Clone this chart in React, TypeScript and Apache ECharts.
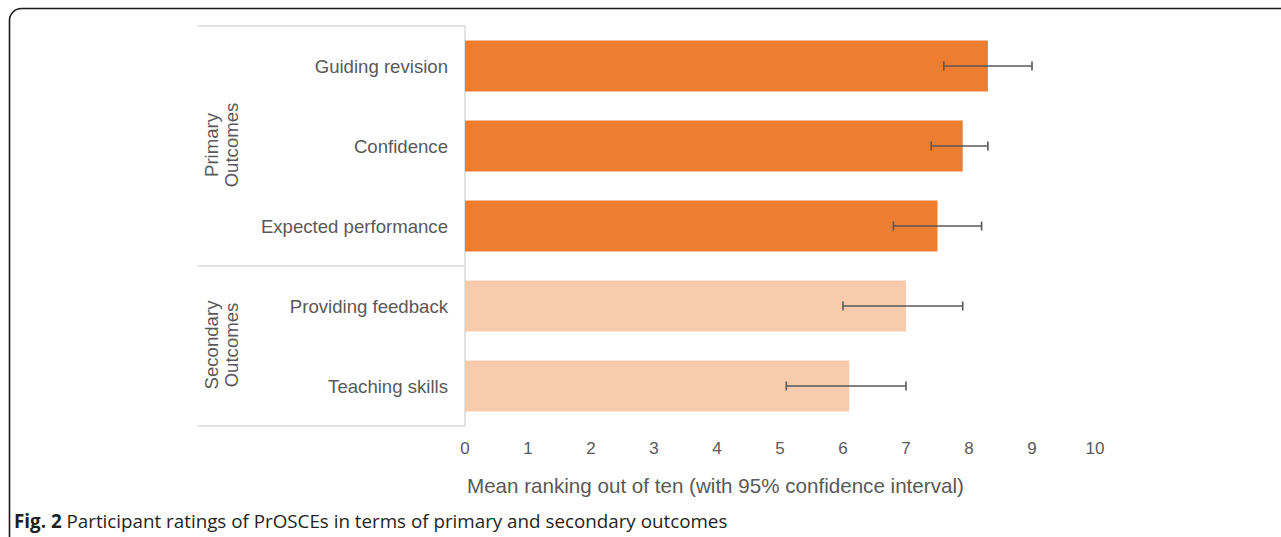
import React, { useEffect, useRef } from "react";
import * as echarts from "echarts";

const categories = [
  "Guiding revision",
  "Confidence",
  "Expected performance",
  "Providing feedback",
  "Teaching skills",
];
const means = [8.3, 7.9, 7.5, 7.0, 6.1];
const lowerCI = [7.6, 7.4, 6.8, 6.0, 5.1];
const upperCI = [9.0, 8.3, 8.2, 7.9, 7.0];
const groupOf = ["primary", "primary", "primary", "secondary", "secondary"];
const xTicks = [0, 10, 1];
const axisTitle = "Mean ranking out of ten (with 95% confidence interval)";
const caption = "Participant ratings of PrOSCEs in terms of primary and secondary outcomes";

const COLORS: Record<string, string> = { primary: "#ED7D31", secondary: "#F8CBAD" };
const TEXT = "#595959";
const LINE = "#D9D9D9";
const SANS = "'Liberation Sans', Arial, Helvetica, sans-serif";
const CAP = "'Open Sans', 'Noto Sans', sans-serif";

export default function App() {
  const ref = useRef<HTMLDivElement>(null);
  useEffect(() => {
    if (!ref.current) return;
    const chart = echarts.init(ref.current, undefined, { renderer: "svg" });
    const option: any = {
      animation: false,
      backgroundColor: "#fff",
      grid: { left: 465, top: 26, width: 630, height: 400, containLabel: false },
      xAxis: {
        type: "value",
        min: xTicks[0],
        max: xTicks[1],
        interval: xTicks[2],
        axisLine: { show: false },
        axisTick: { show: false },
        splitLine: { show: false },
        axisLabel: { color: TEXT, fontSize: 17, fontFamily: SANS, margin: 14 },
      },
      yAxis: {
        type: "category",
        data: categories,
        inverse: true,
        axisLine: { show: true, lineStyle: { color: LINE, width: 1.5 } },
        axisTick: { show: false },
        axisLabel: { color: TEXT, fontSize: 18.6, fontFamily: SANS, margin: 17 },
      },
      series: [
        {
          type: "bar",
          barWidth: "64%",
          data: means.map((v, i) => ({ value: v, itemStyle: { color: COLORS[groupOf[i]] } })),
        },
        {
          type: "custom",
          encode: { x: [0, 1], y: 2 },
          data: categories.map((_, i) => [lowerCI[i], upperCI[i], i]),
          z: 5,
          renderItem: (params: any, api: any) => {
            const yi = api.value(2);
            const p1 = api.coord([api.value(0), yi]);
            const p2 = api.coord([api.value(1), yi]);
            const h = 4.5;
            const style = { stroke: TEXT, lineWidth: 1.6 };
            return {
              type: "group",
              children: [
                { type: "line", shape: { x1: p1[0], y1: p1[1], x2: p2[0], y2: p2[1] }, style },
                { type: "line", shape: { x1: p1[0], y1: p1[1] - h, x2: p1[0], y2: p1[1] + h }, style },
                { type: "line", shape: { x1: p2[0], y1: p2[1] - h, x2: p2[0], y2: p2[1] + h }, style },
              ],
            };
          },
        },
      ],
      graphic: [
        {
          type: "rect",
          shape: { x: 9.5, y: 8.5, width: 1400, height: 700, r: 12 },
          style: { fill: "none", stroke: "#1a1a1a", lineWidth: 1.6 },
          silent: true,
        },
        { type: "line", shape: { x1: 198, y1: 26, x2: 465, y2: 26 }, style: { stroke: LINE, lineWidth: 1.5 } },
        { type: "line", shape: { x1: 198, y1: 266, x2: 465, y2: 266 }, style: { stroke: LINE, lineWidth: 1.5 } },
        { type: "line", shape: { x1: 198, y1: 426, x2: 465, y2: 426 }, style: { stroke: LINE, lineWidth: 1.5 } },
        {
          type: "text",
          x: 221,
          y: 145,
          rotation: Math.PI / 2,
          style: {
            text: "Primary\nOutcomes",
            fill: TEXT,
            font: `18.6px ${SANS}`,
            align: "center",
            verticalAlign: "middle",
            lineHeight: 20,
          },
        },
        {
          type: "text",
          x: 221,
          y: 345,
          rotation: Math.PI / 2,
          style: {
            text: "Secondary\nOutcomes",
            fill: TEXT,
            font: `18.6px ${SANS}`,
            align: "center",
            verticalAlign: "middle",
            lineHeight: 20,
          },
        },
        {
          type: "text",
          x: 467,
          y: 485,
          style: {
            text: axisTitle,
            fill: TEXT,
            font: `20.6px ${SANS}`,
            align: "left",
            verticalAlign: "middle",
          },
        },
        {
          type: "text",
          x: 14,
          y: 521,
          style: {
            text: "{b|Fig. 2} " + caption,
            verticalAlign: "middle",
            fill: "#231f20",
            fontFamily: CAP,
            fontSize: 18.8,
            rich: {
              b: { fontWeight: "bold", fontSize: 18.8, fontFamily: CAP, fill: "#231f20" },
            },
          },
        },
      ],
    };
    chart.setOption(option);
    return () => chart.dispose();
  }, []);
  return (
    <div
      ref={ref}
      style={{ position: "absolute", left: 0, top: 0, width: 1281, height: 537 }}
    />
  );
}
